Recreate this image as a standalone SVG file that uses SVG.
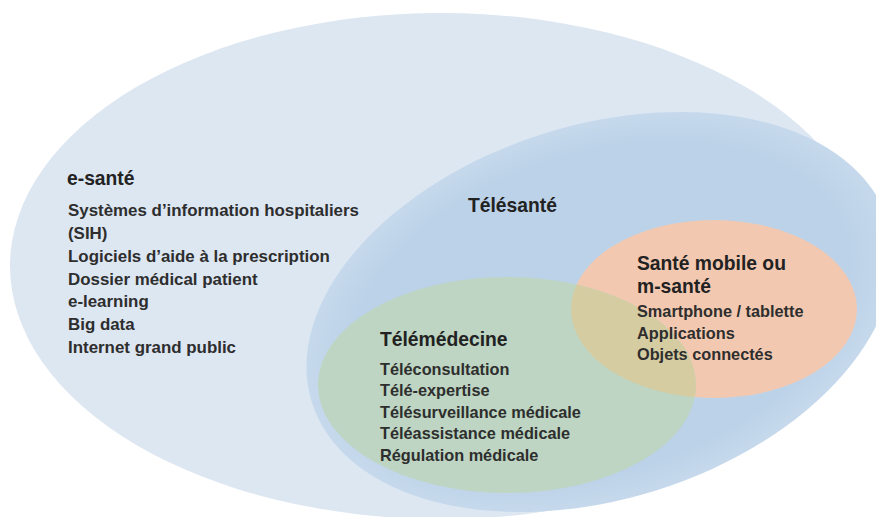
<svg xmlns="http://www.w3.org/2000/svg" width="876" height="517" viewBox="0 0 876 517">
<defs>
<style>
.t{font-family:"Liberation Sans",Arial,sans-serif;font-weight:bold;font-size:19.3px;fill:#222;}
.l{font-family:"Liberation Sans",Arial,sans-serif;font-weight:bold;font-size:16.3px;fill:#2e2e2e;}
.la{font-size:16.9px;}
</style>
<radialGradient id="gTele" cx="0.5" cy="0.5" r="0.5">
<stop offset="0.85" stop-color="#bcd2e8"/>
<stop offset="1" stop-color="#c6d9ec"/>
</radialGradient>
<clipPath id="clipOrange">
<ellipse cx="714" cy="309" rx="143" ry="89"/>
</clipPath>
</defs>
<rect width="876" height="517" fill="#ffffff"/>
<g id="esante">
<ellipse cx="441" cy="266" rx="431" ry="253" fill="#dde7f2"/>
<text class="t" x="67" y="185">e-santé</text>
<text class="l la" x="68" y="216">Systèmes d’information hospitaliers</text>
<text class="l la" x="68" y="239">(SIH)</text>
<text class="l la" x="68" y="262">Logiciels d’aide à la prescription</text>
<text class="l la" x="68" y="284.5">Dossier médical patient</text>
<text class="l la" x="68" y="307">e-learning</text>
<text class="l la" x="68" y="330">Big data</text>
<text class="l la" x="68" y="352.5">Internet grand public</text>
</g>
<g id="telesante">
<ellipse cx="600" cy="312" rx="302" ry="187" transform="rotate(-17.4 600 312)" fill="url(#gTele)"/>
<text class="t" x="468" y="211.5">Télésanté</text>
</g>
<g id="msante">
<ellipse cx="714" cy="309" rx="143" ry="89" fill="#f2c9b0"/>
</g>
<g id="telemedecine">
<ellipse cx="507" cy="385" rx="189" ry="108" fill="#bdd5c2"/>
<ellipse cx="507" cy="385" rx="189" ry="108" fill="#d6cca2" clip-path="url(#clipOrange)"/>
<text class="t" x="380" y="346">Télémédecine</text>
<text class="l" x="380" y="374.5">Téléconsultation</text>
<text class="l" x="380" y="396">Télé-expertise</text>
<text class="l" x="380" y="417.5">Télésurveillance médicale</text>
<text class="l" x="380" y="439">Téléassistance médicale</text>
<text class="l" x="380" y="460.5">Régulation médicale</text>
</g>
<g id="msante-labels">
<text class="t" x="637" y="270">Santé mobile ou</text>
<text class="t" x="637" y="293">m-santé</text>
<text class="l" x="637" y="317">Smartphone / tablette</text>
<text class="l" x="637" y="339">Applications</text>
<text class="l" x="637" y="360">Objets connectés</text>
</g>
<g id="connectors"/>
</svg>
